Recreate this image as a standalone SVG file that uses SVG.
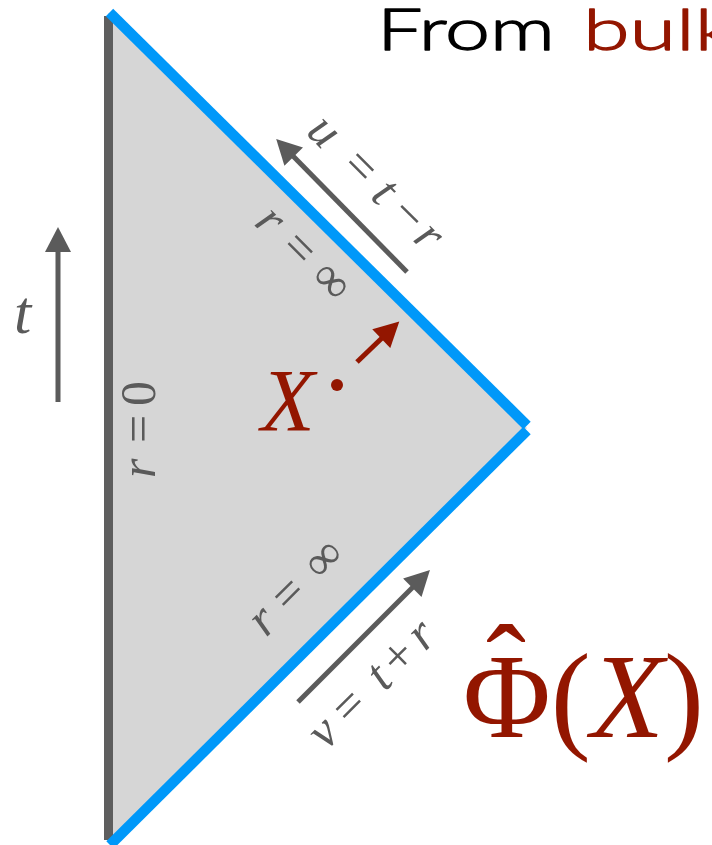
<svg xmlns="http://www.w3.org/2000/svg" width="712" height="845" viewBox="0 0 712 845">
<style>
.lbl{font-family:"Liberation Serif","Times New Roman",serif;font-size:50px;fill:#5a5a5a}
.it{font-style:italic}
.red{fill:#931600}
.ax{stroke:#5b5b5b;stroke-width:5;fill:none;stroke-linecap:butt}
.axr{stroke:#931600;stroke-width:5;fill:none;stroke-linecap:butt}
.bl{stroke:#0098f9;stroke-width:10.5;fill:none;stroke-linecap:butt}
.title{font-family:Lato,"Open Sans",sans-serif;font-size:58px;font-weight:300;stroke-width:1.3px;stroke-linejoin:round}
</style>
<defs>
<marker id="ah" markerUnits="userSpaceOnUse" markerWidth="26" markerHeight="26" viewBox="0 0 25 26" refX="1" refY="13" orient="auto"><path d="M0,0 L25,13 L0,26 z" fill="#5b5b5b"/></marker>
<marker id="ahr" markerUnits="userSpaceOnUse" markerWidth="26" markerHeight="26" viewBox="0 0 25 26" refX="1" refY="13" orient="auto"><path d="M0,0 L25,13 L0,26 z" fill="#931600"/></marker>
</defs>
<rect width="712" height="845" fill="#ffffff"/>
<g id="title">
<text class="title" x="377" y="50" fill="#000000" stroke="#000000" textLength="178" lengthAdjust="spacingAndGlyphs">From</text>
<text class="title" x="583" y="50" fill="#931600" stroke="#931600" textLength="152" lengthAdjust="spacingAndGlyphs">bulk</text>
</g>
<g id="diagram">
<polygon points="108,13 527,428 108,843" fill="#d6d6d6"/>
<line x1="108.5" y1="16" x2="108.5" y2="840" stroke="#5e5e5e" stroke-width="9"/>
<line class="bl" x1="109.5" y1="12.5" x2="527" y2="425.5"/>
<line class="bl" x1="527" y1="430.5" x2="110" y2="845"/>
</g>
<g id="connectors">
<line class="ax" x1="58" y1="402" x2="58" y2="251" marker-end="url(#ah)"/>
<line class="ax" x1="407" y1="272" x2="293" y2="156" marker-end="url(#ah)"/>
<line class="ax" x1="298" y1="702" x2="413" y2="587" marker-end="url(#ah)"/>
<line class="axr" x1="357" y1="362" x2="382" y2="338" marker-end="url(#ahr)"/>
</g>
<g id="t-label"><text class="lbl it" x="14" y="333" style="font-size:62px">t</text></g>
<g id="r0-label" transform="translate(155,478) rotate(-90)">
<text class="lbl"><tspan class="it" x="0">r</tspan><tspan x="35">=</tspan><tspan x="72">0</tspan></text>
</g>
<g id="rinf-top" transform="translate(253,224) rotate(45)">
<text class="lbl"><tspan class="it" x="0">r</tspan><tspan x="36">=</tspan><tspan x="78">∞</tspan></text>
</g>
<g id="rinf-bottom" transform="translate(266,638) rotate(-45)">
<text class="lbl"><tspan class="it" x="0">r</tspan><tspan x="33">=</tspan><tspan x="79">∞</tspan></text>
</g>
<g id="u-label" transform="translate(305,133) rotate(45)">
<text class="lbl"><tspan class="it" x="0">u</tspan><tspan x="49">=</tspan><tspan class="it" x="91">t</tspan><tspan x="117">−</tspan><tspan class="it" x="151">r</tspan></text>
</g>
<g id="v-label" transform="translate(326,751) rotate(-45)">
<text class="lbl"><tspan class="it" x="0">v</tspan><tspan x="34">=</tspan><tspan class="it" x="83">t</tspan><tspan x="104">+</tspan><tspan class="it" x="140">r</tspan></text>
</g>
<g id="X-point">
<text class="lbl it red" x="261" y="430" style="font-size:88px">X</text>
<circle cx="337" cy="385" r="6" fill="#931600"/>
</g>
<g id="phi-label">
<text class="lbl red" x="506" y="708" style="font-size:120px" text-anchor="middle">ˆ</text>
<text class="lbl red" x="463" y="737" style="font-size:120px">Φ(<tspan class="it">X</tspan>)</text>
</g>
</svg>
